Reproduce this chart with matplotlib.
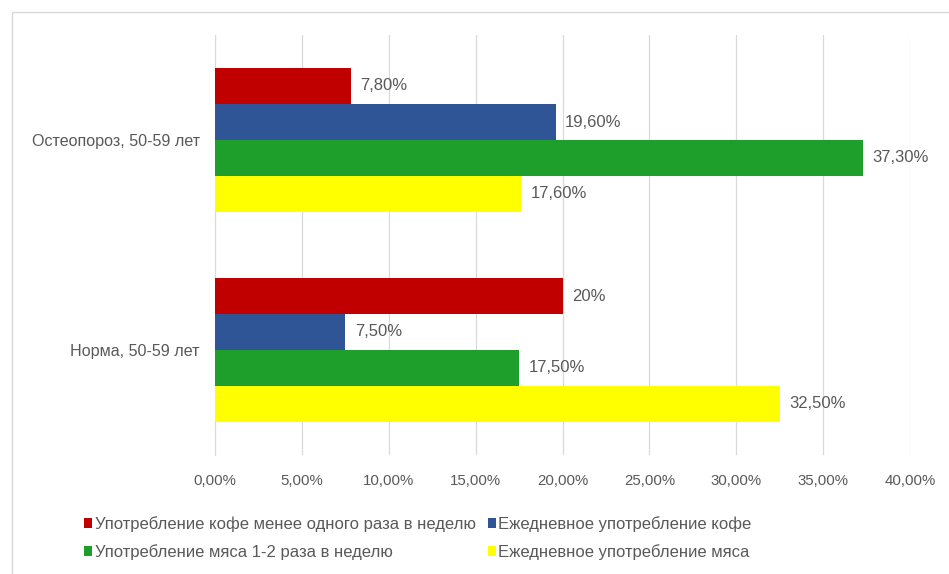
import matplotlib
matplotlib.use("Agg")
import matplotlib.pyplot as plt
from matplotlib.patches import Rectangle, Patch
import numpy as np

categories = ["Норма, 50-59 лет", "Остеопороз, 50-59 лет"]
series_names = [
    "Употребление кофе менее одного раза в неделю",
    "Ежедневное употребление кофе",
    "Употребление мяса 1-2 раза в неделю",
    "Ежедневное употребление мяса",
]
# values per series: [Норма, Остеопороз]
coffee_rare = [20.0, 7.8]
coffee_daily = [7.5, 19.6]
meat_weekly = [17.5, 37.3]
meat_daily = [32.5, 17.6]
series_values = [coffee_rare, coffee_daily, meat_weekly, meat_daily]
label_texts = [["20%", "7,80%"], ["7,50%", "19,60%"], ["17,50%", "37,30%"], ["32,50%", "17,60%"]]
colors = ["#c00000", "#2f5597", "#1e9e2a", "#ffff00"]
xticks = [0, 5, 10, 15, 20, 25, 30, 35, 40]
xtick_labels = ["0,00%", "5,00%", "10,00%", "15,00%", "20,00%", "25,00%", "30,00%", "35,00%", "40,00%"]

plt.rcParams["font.family"] = ["Liberation Sans", "DejaVu Sans"]
txt = "#595959"

fig = plt.figure(figsize=(9.49, 5.74), dpi=100)
fig.patch.set_facecolor("white")
fig.patches.append(Rectangle((12 / 949, -0.05), 1.0, 1 - 12 / 574 + 0.05,
                             transform=fig.transFigure, fill=False,
                             edgecolor="#d9d9d9", linewidth=1.0))

ax = fig.add_axes([215 / 949, 1 - 455 / 574, 695 / 949, 420 / 574])
bh = 36 / 210
y = np.arange(len(categories))
for i, (vals, col) in enumerate(zip(series_values, colors)):
    offs = (1.5 - i) * bh
    bars = ax.barh(y + offs, vals, height=bh, color=col, label=series_names[i], zorder=3)
    for b, t in zip(bars, label_texts[i]):
        ax.text(b.get_width() + 0.55, b.get_y() + bh / 2, t, va="center", ha="left",
                fontsize=12, color=txt)

ax.set_xlim(0, 40)
ax.set_ylim(-0.5, 1.5)
ax.set_xticks(xticks)
ax.set_xticklabels(xtick_labels, fontsize=10.8, color=txt)
ax.set_yticks(y)
ax.set_yticklabels(categories, fontsize=11.6, color=txt)
ax.tick_params(axis="both", length=0)
ax.tick_params(axis="x", pad=14)
ax.tick_params(axis="y", pad=11)
ax.grid(axis="x", color="#d9d9d9", linewidth=0.9, zorder=0)
for s in ["top", "right", "bottom"]:
    ax.spines[s].set_visible(False)
ax.spines["left"].set_color("#d9d9d9")

handles = [Patch(facecolor=c) for c in colors]
order = [0, 2, 1, 3]
leg = fig.legend([handles[k] for k in order], [series_names[k] for k in order],
                 ncol=2, loc="center left", bbox_to_anchor=(69 / 949, 1 - 538 / 574),
                 frameon=False, handlelength=0.5, handleheight=0.5,
                 handletextpad=0.15, columnspacing=0.7, labelspacing=0.74,
                 prop={"family": ["Liberation Sans", "DejaVu Sans"], "size": 12})
for t in leg.get_texts():
    t.set_color(txt)

fig.savefig("out.png", dpi=100, facecolor="white")
